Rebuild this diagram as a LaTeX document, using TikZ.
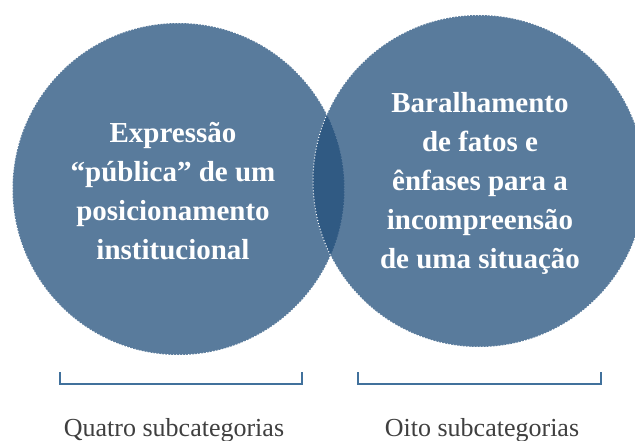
\documentclass[tikz,border=0pt]{standalone}
\usepackage{fontspec}
\setmainfont{Liberation Serif}
\definecolor{vennblue}{HTML}{224F7B}
\definecolor{bracketblue}{HTML}{41719C}
\definecolor{labelgray}{HTML}{3F3F3F}
\begin{document}
\begin{tikzpicture}[x=1pt, y=-1pt,
		venn/.style={circle, fill=vennblue, fill opacity=0.75, draw=white, draw opacity=1, dotted, line width=1pt, inner sep=0, minimum size=332},
		venntext/.style={align=center, text=white, font=\fontsize{29}{39}\selectfont\bfseries},
		bracket/.style={draw=bracketblue, line width=1.3pt},
		caption/.style={anchor=base, text=labelgray, font=\fontsize{26}{30}\selectfont}]
			\clip (0,0) rectangle (635,441);
			\node[venn] (left) at (178.5,189) {};
			\node[venn] (right) at (479,181) {};
			\node[venntext] (lefttext) at (173,191) {Expressão\\“pública” de um\\posicionamento\\institucional};
			\node[venntext] (righttext) at (480,183) {Baralhamento\\de fatos e\\ênfases para a\\incompreensão\\de uma situação};
			\draw[bracket] (60,372) |- (302,384) -- (302,372);
			\draw[bracket] (358,372) |- (601,384) -- (601,372);
			\node[caption] (leftcaption) at (174,436) {Quatro subcategorias};
			\node[caption] (rightcaption) at (482,436) {Oito subcategorias};
		\end{tikzpicture}
\end{document}
